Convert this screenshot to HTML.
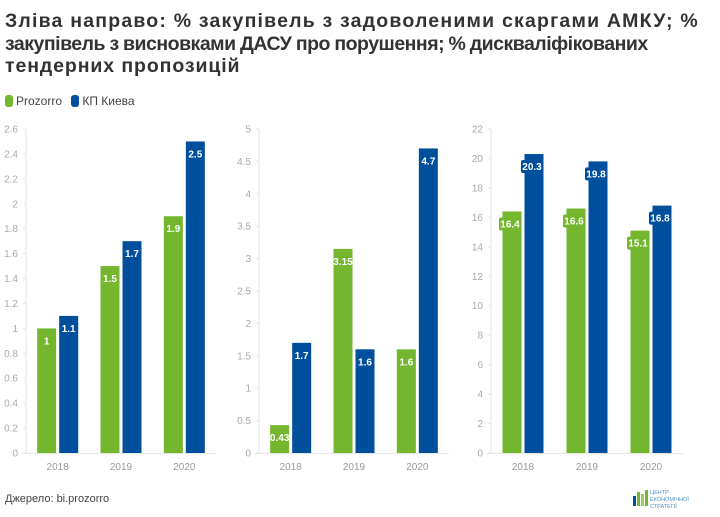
<!DOCTYPE html>
<html><head><meta charset="utf-8">
<style>
body{margin:0;background:#fff;width:720px;height:517px;overflow:hidden;font-family:"Liberation Sans","DejaVu Sans",sans-serif;}
#title{position:absolute;left:5px;top:10px;white-space:nowrap;font-size:19.5px;font-weight:bold;line-height:22.5px;color:#333;}
#title span{display:block}
#legend{position:absolute;left:5px;top:94px;font-size:12px;color:#444;}
.li{display:inline-flex;align-items:center;margin-right:6px}
.sw{width:8px;height:12px;border-radius:3px;margin-right:3px;display:inline-block}
#src{position:absolute;left:5px;top:493px;font-size:11px;color:#444}
svg{position:absolute;left:0;top:0}
</style></head><body>
<div id="title"><span style="letter-spacing:1.2px">Зліва направо: % закупівель з задоволеними скаргами АМКУ; %</span><span style="letter-spacing:-0.5px;word-spacing:-0.5px">закупівель з висновками ДАСУ про порушення; % дискваліфікованих</span><span style="letter-spacing:0.9px">тендерних пропозицій</span></div>
<div id="legend">
<span class="li"><span class="sw" style="background:#74b72f"></span>Prozorro</span>
<span class="li"><span class="sw" style="background:#004f9c"></span>КП Киева</span>
</div>
<div id="src">Джерело: bi.prozorro</div>
<svg id="chart" width="720" height="517">
<g>
<rect x="633" y="496" width="3" height="10" fill="#004f9c"/>
<rect x="637" y="492" width="3" height="14" fill="#74b72f"/>
<rect x="641" y="494" width="3" height="12" fill="#9ccc65"/>
<rect x="645" y="490" width="3" height="16" fill="#74b72f"/>
<text x="650" y="494" font-size="5.5" fill="#4a90c8">ЦЕНТР</text>
<text x="650" y="501" font-size="5.5" fill="#4a90c8">ЕКОНОМІЧНОЇ</text>
<text x="650" y="508" font-size="5.5" fill="#4a90c8">СТРАТЕГІЇ</text>
</g>
</svg>
<script>
const categories=["2018","2019","2020"];
const prozorro1=[1,1.5,1.9];
const kp1=[1.1,1.7,2.5];
const prozorro2=[0.43,3.15,1.6];
const kp2=[1.7,1.6,4.7];
const prozorro3=[16.4,16.6,15.1];
const kp3=[20.3,19.8,16.8];
const ticks1=["0","0.2","0.4","0.6","0.8","1","1.2","1.4","1.6","1.8","2","2.2","2.4","2.6"];
const ticks2=["0","0.5","1","1.5","2","2.5","3","3.5","4","4.5","5"];
const ticks3=["0","2","4","6","8","10","12","14","16","18","20","22"];
const NS="http://www.w3.org/2000/svg";
const svg=document.getElementById("chart");
function mk(t,a,p){const e=document.createElementNS(NS,t);for(const k in a)e.setAttribute(k,a[k]);(p||svg).appendChild(e);return e;}
function draw(idx,x0,x1,ticks,maxV,ser1,ser2,boxed){
  const y0=453,yTop=129;
  const g=mk("g",{});
  
  
  const ys=v=>y0-(v/maxV)*(y0-yTop);
  mk("line",{x1:x0,x2:x0,y1:yTop,y2:y0,stroke:"#e6e6e6"},g);
  mk("line",{x1:x0-4,x2:x1,y1:y0+0.5,y2:y0+0.5,stroke:"#e6e6e6"},g);
  ticks.forEach(t=>{const v=parseFloat(t);const y=ys(v);
    mk("line",{x1:x0-3,x2:x0,y1:y,y2:y,stroke:"#e6e6e6"},g);
    const tx=mk("text",{x:x0-8,y:y+3.5,"font-size":"10","text-anchor":"end",fill:"#aaa"},g);tx.textContent=t;
    
    });
  const band=(x1-x0)/categories.length,bw=19,gap=3;
  categories.forEach((c,i)=>{
    const cx=x0+band*(i+0.5);
    const lt=mk("text",{x:cx,y:y0+17,"font-size":"10","text-anchor":"middle",fill:"#999"},g);lt.textContent=c;
    
    
    [[ser1,"#74b72f",cx-gap/2-bw,"prozorro"],[ser2,"#004f9c",cx+gap/2,"kp"]].forEach(([s,col,bx,nm])=>{
      const v=s[i],y=ys(v);
      const r=mk("rect",{x:bx,y:y,width:bw,height:y0-y,fill:col},g);
      
      
      const lx=boxed?bx+bw/2-2:bx+bw/2;
      if(boxed){mk("rect",{x:lx-11,y:y+6,width:22,height:13,fill:col,rx:2},g);}
      const t=mk("text",{x:lx,y:y+16,"font-size":"10","font-weight":"bold","text-anchor":"middle",fill:"#fff"},g);t.textContent=String(v);
      
      
    });
  });
}
draw(1,26,216,ticks1,2.6,prozorro1,kp1,false);
draw(2,259,449,ticks2,5,prozorro2,kp2,false);
draw(3,491,683,ticks3,22,prozorro3,kp3,true);
</script>
</body></html>
